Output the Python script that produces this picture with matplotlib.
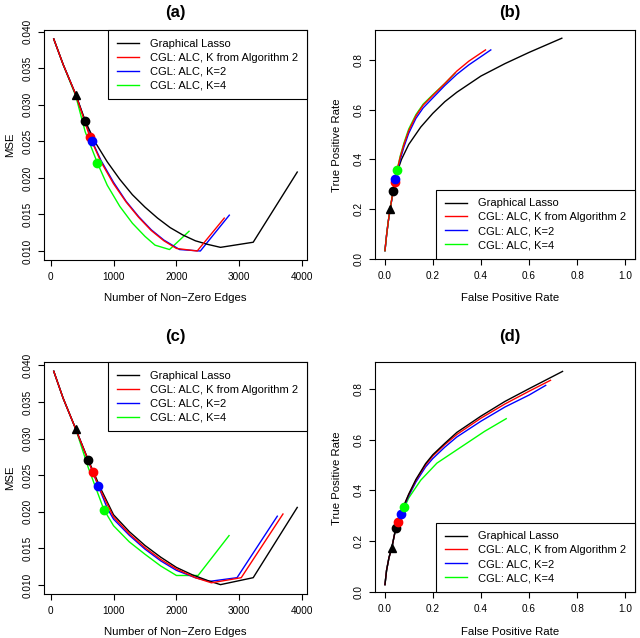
import numpy as np
import matplotlib
matplotlib.use("Agg")
import matplotlib.pyplot as plt

plt.rcParams['font.family'] = ['Liberation Sans', 'DejaVu Sans']

# ---------- panel (a): MSE vs number of non-zero edges ----------
a_gl_x = [50, 200, 400, 550, 700, 900, 1100, 1300, 1500, 1700, 1900, 2100, 2300, 2500, 2700, 3220, 3920]
a_gl_y = [0.0390, 0.0355, 0.0314, 0.0278, 0.0250, 0.0222, 0.0198, 0.0177, 0.0160, 0.0145, 0.0132, 0.0122, 0.0114, 0.0109, 0.0105, 0.0112, 0.0208]
a_k_x = [50, 200, 400, 624, 800, 1000, 1200, 1400, 1600, 1800, 2000, 2330, 2760]
a_k_y = [0.0390, 0.0355, 0.0314, 0.0256, 0.0222, 0.0192, 0.0167, 0.0146, 0.0128, 0.0114, 0.01035, 0.0100, 0.0145]
a_k2_x = [50, 200, 400, 656, 800, 1000, 1200, 1400, 1600, 1800, 2050, 2380, 2840]
a_k2_y = [0.0390, 0.0355, 0.0314, 0.0251, 0.0224, 0.0194, 0.0168, 0.0147, 0.0129, 0.0115, 0.0102, 0.0100, 0.0149]
a_k4_x = [50, 200, 400, 550, 741, 900, 1100, 1300, 1500, 1660, 1890, 2200]
a_k4_y = [0.0390, 0.0355, 0.0312, 0.0263, 0.0221, 0.0190, 0.0161, 0.0138, 0.0120, 0.0108, 0.0102, 0.0127]
a_tri = (400, 0.0314)
a_pts = [(550, 0.0278), (624, 0.0256), (656, 0.0251), (741, 0.0221)]

# ---------- panel (b): ROC ----------
b_gl_x = [0.0014, 0.008, 0.015, 0.023, 0.0355, 0.052, 0.07, 0.1, 0.15, 0.2, 0.25, 0.3, 0.4, 0.5, 0.6, 0.736]
b_gl_y = [0.0335, 0.095, 0.15, 0.201, 0.273, 0.35, 0.40, 0.46, 0.53, 0.585, 0.632, 0.67, 0.735, 0.785, 0.83, 0.887]
b_k_x = [0.0014, 0.008, 0.015, 0.023, 0.041, 0.052, 0.065, 0.08, 0.1, 0.13, 0.16, 0.2, 0.25, 0.3, 0.35, 0.419]
b_k_y = [0.0335, 0.095, 0.15, 0.201, 0.308, 0.358, 0.41, 0.46, 0.515, 0.575, 0.618, 0.657, 0.705, 0.755, 0.795, 0.840]
b_k2_x = [0.0014, 0.008, 0.015, 0.023, 0.045, 0.055, 0.065, 0.08, 0.1, 0.13, 0.16, 0.2, 0.25, 0.3, 0.35, 0.441]
b_k2_y = [0.0335, 0.095, 0.15, 0.201, 0.320, 0.36, 0.40, 0.45, 0.505, 0.565, 0.607, 0.647, 0.697, 0.742, 0.78, 0.840]
b_k4_x = [0.0014, 0.008, 0.015, 0.023, 0.041, 0.052, 0.065, 0.08, 0.1, 0.13, 0.16, 0.2, 0.25, 0.292]
b_k4_y = [0.0335, 0.095, 0.15, 0.201, 0.308, 0.358, 0.415, 0.465, 0.522, 0.58, 0.622, 0.66, 0.705, 0.746]
b_tri = (0.023, 0.201)
b_pts = [(0.0355, 0.273), (0.041, 0.308), (0.045, 0.320), (0.052, 0.358)]

# ---------- panel (c): MSE vs number of non-zero edges ----------
c_gl_x = [50, 200, 400, 598, 800, 1000, 1250, 1500, 1750, 2000, 2250, 2500, 2700, 3220, 3920]
c_gl_y = [0.0392, 0.0355, 0.0313, 0.0271, 0.0231, 0.0196, 0.0173, 0.0154, 0.0138, 0.0124, 0.0114, 0.0106, 0.01005, 0.0110, 0.0206]
c_k_x = [50, 200, 400, 672, 800, 1000, 1250, 1500, 1750, 2000, 2300, 2556, 3030, 3693]
c_k_y = [0.0392, 0.0355, 0.0313, 0.0254, 0.0228, 0.0193, 0.0170, 0.0151, 0.0135, 0.0122, 0.0110, 0.0103, 0.0110, 0.0197]
c_k2_x = [50, 200, 400, 757, 900, 1000, 1250, 1500, 1750, 2000, 2300, 2530, 2963, 3603]
c_k2_y = [0.0392, 0.0355, 0.0313, 0.02355, 0.0205, 0.0190, 0.0168, 0.0149, 0.0133, 0.0120, 0.0110, 0.0105, 0.0110, 0.0194]
c_k4_x = [50, 200, 400, 600, 847, 1000, 1250, 1500, 1750, 2000, 2344, 2836]
c_k4_y = [0.0392, 0.0355, 0.0313, 0.0260, 0.0203, 0.0181, 0.0159, 0.0142, 0.0126, 0.0113, 0.0113, 0.01675]
c_tri = (402, 0.0313)
c_pts = [(598, 0.0271), (672, 0.0254), (757, 0.02355), (847, 0.0203)]

# ---------- panel (d): ROC ----------
d_gl_x = [0.0014, 0.008, 0.018, 0.030, 0.046, 0.065, 0.082, 0.1, 0.13, 0.17, 0.2, 0.25, 0.3, 0.4, 0.5, 0.6, 0.739]
d_gl_y = [0.029, 0.085, 0.135, 0.175, 0.250, 0.30, 0.345, 0.385, 0.443, 0.505, 0.54, 0.585, 0.628, 0.692, 0.75, 0.80, 0.868]
d_k_x = [0.0014, 0.008, 0.018, 0.030, 0.046, 0.057, 0.07, 0.085, 0.1, 0.13, 0.17, 0.2, 0.25, 0.3, 0.4, 0.5, 0.6, 0.689]
d_k_y = [0.029, 0.085, 0.135, 0.175, 0.250, 0.276, 0.31, 0.35, 0.383, 0.44, 0.50, 0.535, 0.58, 0.62, 0.684, 0.74, 0.79, 0.833]
d_k2_x = [0.0014, 0.008, 0.018, 0.030, 0.046, 0.057, 0.067, 0.085, 0.1, 0.13, 0.17, 0.2, 0.25, 0.3, 0.4, 0.5, 0.6, 0.669]
d_k2_y = [0.029, 0.085, 0.135, 0.175, 0.250, 0.276, 0.307, 0.345, 0.378, 0.433, 0.492, 0.525, 0.57, 0.61, 0.672, 0.728, 0.775, 0.813]
d_k4_x = [0.0014, 0.008, 0.018, 0.030, 0.046, 0.057, 0.067, 0.082, 0.1, 0.15, 0.217, 0.32, 0.415, 0.505]
d_k4_y = [0.029, 0.085, 0.135, 0.175, 0.250, 0.276, 0.307, 0.333, 0.37, 0.44, 0.507, 0.572, 0.632, 0.682]
d_tri = (0.030, 0.175)
d_pts = [(0.046, 0.250), (0.057, 0.276), (0.067, 0.307), (0.082, 0.333)]

labels = ['Graphical Lasso', 'CGL: ALC, K from Algorithm 2', 'CGL: ALC, K=2', 'CGL: ALC, K=4']
colors = ['black', '#FF0000', '#0000FF', '#00FF00']

W, H = 640, 638
fig = plt.figure(figsize=(W / 100, H / 100), dpi=100)


def px_axes(left, top, right, bottom):
    return fig.add_axes([left / W, 1 - bottom / H, (right - left) / W, (bottom - top) / H])


def style(ax):
    for s in ax.spines.values():
        s.set_linewidth(0.8)
    ax.tick_params(direction='out', length=4, width=0.8, labelsize=7.2, pad=4.5)
    for lab in ax.get_yticklabels():
        lab.set_rotation(90)
        lab.set_va('center')


def draw(ax, series, tri, pts, order):
    for i in order:
        x, y = series[i]
        ax.plot(x, y, color=colors[i], lw=1.0, label=labels[i])
    ax.plot([tri[0]], [tri[1]], marker='^', color='black', ms=6, ls='none', zorder=5)
    for i, (px, py) in enumerate(pts):
        ax.plot([px], [py], marker='o', color=colors[i], ms=6, ls='none', zorder=5)


def legend(ax, loc):
    h, l = ax.get_legend_handles_labels()
    idx = [l.index(t) for t in labels]
    leg = ax.legend([h[i] for i in idx], [l[i] for i in idx], loc=loc, borderaxespad=0,
                    fontsize=8, fancybox=False, framealpha=1, edgecolor='black',
                    handlelength=2.0, handletextpad=1.0, labelspacing=0.35,
                    borderpad=0.8)
    leg.get_frame().set_linewidth(0.8)


def mse_axes(ax):
    ax.set_xlim(-105, 4075)
    ax.set_xticks([0, 1000, 2000, 3000, 4000])
    ax.set_yticks([0.010, 0.015, 0.020, 0.025, 0.030, 0.035, 0.040])
    ax.set_yticklabels(['0.010', '0.015', '0.020', '0.025', '0.030', '0.035', '0.040'])


def roc_axes(ax):
    ax.set_xlim(-0.04, 1.04)
    ax.set_xticks([0, 0.2, 0.4, 0.6, 0.8, 1.0])
    ax.set_xticklabels(['0.0', '0.2', '0.4', '0.6', '0.8', '1.0'])
    ax.set_yticks([0, 0.2, 0.4, 0.6, 0.8])
    ax.set_yticklabels(['0.0', '0.2', '0.4', '0.6', '0.8'])


# (a)
ax_a = px_axes(44, 30, 307, 260)
draw(ax_a, [(a_gl_x, a_gl_y), (a_k_x, a_k_y), (a_k2_x, a_k2_y), (a_k4_x, a_k4_y)], a_tri, a_pts, [3, 2, 0, 1])
mse_axes(ax_a)
ax_a.set_ylim(0.00877, 0.04023)
legend(ax_a, 'upper right')
style(ax_a)

# (b)
ax_b = px_axes(375, 30, 635, 259)
draw(ax_b, [(b_gl_x, b_gl_y), (b_k_x, b_k_y), (b_k2_x, b_k2_y), (b_k4_x, b_k4_y)], b_tri, b_pts, [0, 2, 3, 1])
roc_axes(ax_b)
ax_b.set_ylim(0.0, 0.92)
legend(ax_b, 'lower right')
style(ax_b)

# (c)
ax_c = px_axes(44, 362, 307, 594)
draw(ax_c, [(c_gl_x, c_gl_y), (c_k_x, c_k_y), (c_k2_x, c_k2_y), (c_k4_x, c_k4_y)], c_tri, c_pts, [3, 2, 0, 1])
mse_axes(ax_c)
ax_c.set_ylim(0.00877, 0.04047)
legend(ax_c, 'upper right')
style(ax_c)

# (d)
ax_d = px_axes(375, 362, 635, 592)
draw(ax_d, [(d_gl_x, d_gl_y), (d_k_x, d_k_y), (d_k2_x, d_k2_y), (d_k4_x, d_k4_y)], d_tri, d_pts, [3, 2, 1, 0])
roc_axes(ax_d)
ax_d.set_ylim(0.0, 0.905)
legend(ax_d, 'lower right')
style(ax_d)


# titles and axis labels in pixel positions
def ftext(x, y, s, **kw):
    fig.text(x / W, 1 - y / H, s, ha='center', va='center', **kw)


for cx, cy, t in [(175, 12, '(a)'), (510, 12, '(b)'), (175, 336, '(c)'), (510, 336, '(d)')]:
    ftext(cx, cy, t, fontsize=12, fontweight='bold')
for cx, cy in [(175, 298), (175, 632)]:
    ftext(cx, cy, 'Number of Non\u2212Zero Edges', fontsize=8.2)
for cx, cy in [(510, 298), (510, 632)]:
    ftext(cx, cy, 'False Positive Rate', fontsize=8.2)
for cy in [145, 478]:
    ftext(10, cy, 'MSE', fontsize=8.2, rotation=90)
    ftext(337, cy, 'True Positive Rate', fontsize=8.2, rotation=90)

fig.savefig('out.png', dpi=100, facecolor='white')
